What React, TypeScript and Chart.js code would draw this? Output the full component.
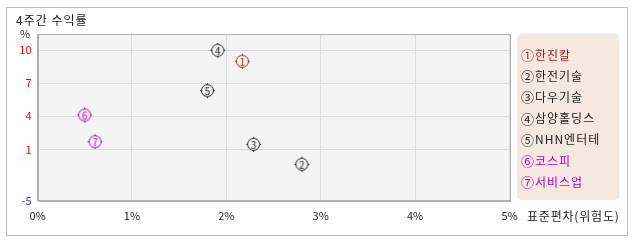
import React, { useEffect, useRef } from "react";
import { Chart, registerables } from "chart.js";

Chart.register(...registerables);

const names = ["한진칼", "한전기술", "다우기술", "삼양홀딩스", "NHN엔터테", "코스피", "서비스업"];
const marks = ["①", "②", "③", "④", "⑤", "⑥", "⑦"];
const digits = ["1", "2", "3", "4", "5", "6", "7"];
const risk = [2.17, 2.8, 2.29, 1.91, 1.8, 0.5, 0.61];
const returns = [9.0, -0.36, 1.45, 10.0, 6.33, 4.12, 1.69];
const colors = ["#b01818", "#222222", "#222222", "#222222", "#222222", "#b000c0", "#b000c0"];
const yMin = -3.67;
const yMax = 11.48;
const yTickValues = [yMin, 1, 4, 7, 10];
const yTickLabels = ["-5", "1", "4", "7", "10"];
const xTickValues = [0, 1, 2, 3, 4, 5];

const FONT = "'Noto Sans CJK KR', 'Noto Sans', sans-serif";

function makeMarker(digit: string, color: string): HTMLCanvasElement {
  const c = document.createElement("canvas");
  c.width = 17;
  c.height = 17;
  const g = c.getContext("2d")!;
  const cx = 8.5, cy = 8.5, r = 6;
  g.fillStyle = "#f4f4f4";
  g.beginPath();
  g.arc(cx, cy, r, 0, Math.PI * 2);
  g.fill();
  g.strokeStyle = color;
  g.lineWidth = 1;
  g.beginPath();
  g.arc(cx, cy, r, 0, Math.PI * 2);
  g.stroke();
  g.beginPath();
  g.moveTo(cx, cy - r - 1.5); g.lineTo(cx, cy - r);
  g.moveTo(cx, cy + r); g.lineTo(cx, cy + r + 1.5);
  g.moveTo(cx - r - 1.5, cy); g.lineTo(cx - r, cy);
  g.moveTo(cx + r, cy); g.lineTo(cx + r + 1.5, cy);
  g.stroke();
  g.fillStyle = color;
  g.font = "10px " + FONT;
  g.textAlign = "center";
  g.textBaseline = "middle";
  g.fillText(digit, cx, cy + 0.5);
  return c;
}

const decorPlugin = {
  id: "decor",
  beforeDraw(chart: any) {
    const { ctx, chartArea: a } = chart;
    ctx.save();
    ctx.fillStyle = "#ffffff";
    ctx.fillRect(0, 0, chart.width, chart.height);
    ctx.strokeStyle = "#bdbdbd";
    ctx.lineWidth = 1;
    ctx.strokeRect(6.5, 7.5, 621, 228);
    ctx.fillStyle = "#f4f4f4";
    ctx.fillRect(a.left, a.top, a.right - a.left, a.bottom - a.top);
    ctx.restore();
  },
  beforeDatasetsDraw(chart: any) {
    const { ctx, chartArea: a } = chart;
    ctx.save();
    ctx.strokeStyle = "#b0b0b0";
    ctx.lineWidth = 1;
    ctx.strokeRect(Math.round(a.left) + 0.5, Math.round(a.top) + 0.5, Math.round(a.right - a.left), Math.round(a.bottom - a.top));
    ctx.restore();
  },
  afterDraw(chart: any) {
    const { ctx } = chart;
    ctx.save();
    ctx.fillStyle = "#222";
    ctx.font = "12px " + FONT;
    ctx.textBaseline = "middle";
    ctx.textAlign = "left";
    ctx.letterSpacing = "1px";
    ctx.fillText("4주간 수익률", 16, 20);
    ctx.letterSpacing = "0px";
    ctx.font = "11px " + FONT;
    ctx.textAlign = "center";
    ctx.fillText("%", 25, 34);
    ctx.font = "12px " + FONT;
    ctx.textAlign = "left";
    ctx.letterSpacing = "0.8px";
    ctx.fillText("표준편차(위험도)", 527, 216);
    // legend box
    const lx = 517, ly = 33.5, lw = 102.5, lh = 166.5, rr = 6;
    ctx.fillStyle = "#f5e8e1";
    ctx.beginPath();
    ctx.moveTo(lx + rr, ly);
    ctx.lineTo(lx + lw - rr, ly);
    ctx.quadraticCurveTo(lx + lw, ly, lx + lw, ly + rr);
    ctx.lineTo(lx + lw, ly + lh - rr);
    ctx.quadraticCurveTo(lx + lw, ly + lh, lx + lw - rr, ly + lh);
    ctx.lineTo(lx + rr, ly + lh);
    ctx.quadraticCurveTo(lx, ly + lh, lx, ly + lh - rr);
    ctx.lineTo(lx, ly + rr);
    ctx.quadraticCurveTo(lx, ly, lx + rr, ly);
    ctx.fill();
    chart.data.datasets.forEach((ds: any, i: number) => {
      const y = 55 + i * 21.2;
      ctx.fillStyle = ds.borderColor;
      ctx.letterSpacing = "0px";
      ctx.font = "13px " + FONT;
      ctx.textAlign = "left";
      ctx.fillText(marks[i], 521, y);
      ctx.font = "12px " + FONT;
      ctx.letterSpacing = "1px";
      ctx.fillText(ds.label, 535, y);
    });
    ctx.restore();
  },
};

export default function App() {
  const ref = useRef<HTMLCanvasElement>(null);
  useEffect(() => {
    const datasets = names.map((n, i) => ({
      label: n,
      data: [{ x: risk[i], y: returns[i] }],
      borderColor: colors[i],
      backgroundColor: colors[i],
      pointStyle: makeMarker(digits[i], colors[i]),
    }));
    const chart = new Chart(ref.current!, {
      type: "scatter",
      data: { datasets },
      plugins: [decorPlugin],
      options: {
        responsive: false,
        animation: false,
        devicePixelRatio: 1,
        layout: { padding: { left: 0, top: 34, right: 128.5, bottom: 0 } },
        plugins: { legend: { display: false }, tooltip: { enabled: false } },
        scales: {
          x: {
            type: "linear",
            min: 0,
            max: 5,
            afterFit(scale: any) { scale.height = 41.3; },
            afterBuildTicks(scale: any) { scale.ticks = xTickValues.map((v) => ({ value: v })); },
            grid: { color: "#dcdcdc", drawTicks: false },
            border: { display: true, color: "#b0b0b0" },
            ticks: {
              padding: 9,
              color: "#222",
              font: { family: FONT, size: 11 },
              maxRotation: 0,
              callback: (v: any) => v + "%",
            },
          },
          y: {
            type: "linear",
            min: yMin,
            max: yMax,
            afterFit(scale: any) { scale.width = 37.5; },
            afterBuildTicks(scale: any) { scale.ticks = yTickValues.map((v) => ({ value: v })); },
            grid: { color: "#dcdcdc", drawTicks: false },
            border: { display: true, color: "#b0b0b0" },
            ticks: {
              padding: 6,
              font: { family: FONT, size: 11 },
              color: (c: any) => (c.index === 0 ? "#3333ff" : "#ff0000"),
              callback: (_v: any, i: number) => yTickLabels[i],
            },
          },
        },
      } as any,
    });
    return () => chart.destroy();
  }, []);
  return (
    <div style={{ position: "fixed", left: 0, top: 0, width: 638, height: 242, background: "#fff" }}>
      <canvas ref={ref} width={638} height={242} style={{ display: "block", width: 638, height: 242 }} />
    </div>
  );
}
